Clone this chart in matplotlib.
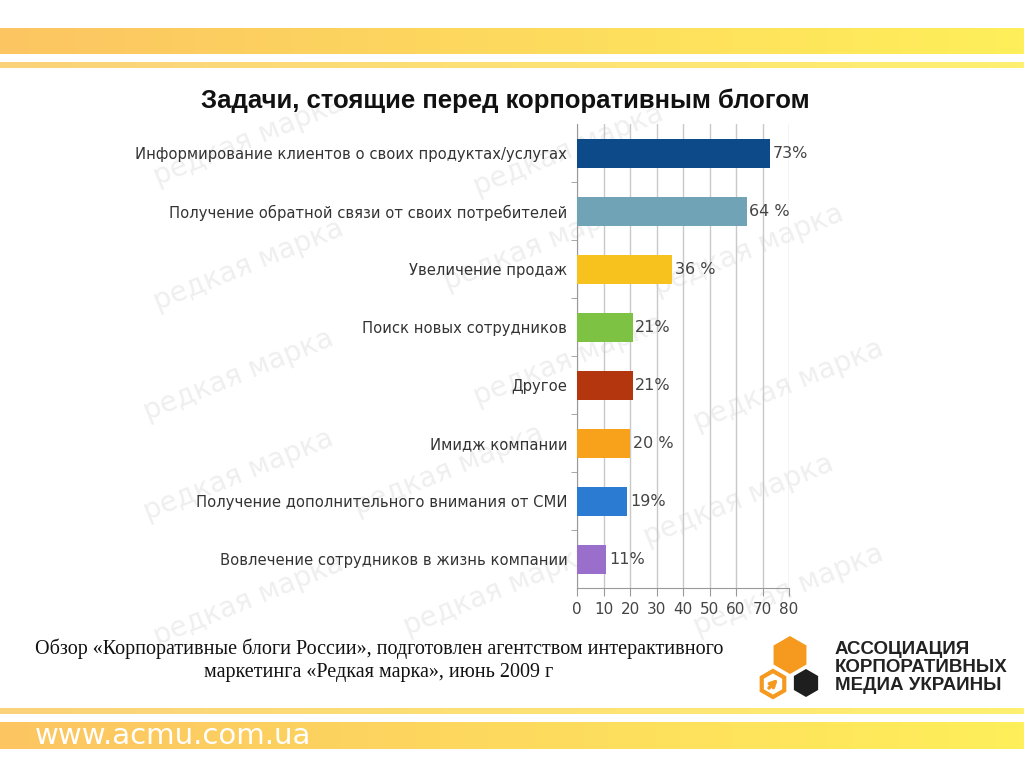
import numpy as np
import matplotlib.pyplot as plt
from matplotlib.patches import RegularPolygon

# data
categories = [
    "Информирование клиентов о своих продуктах/услугах",
    "Получение обратной связи от своих потребителей",
    "Увеличение продаж",
    "Поиск новых сотрудников",
    "Другое",
    "Имидж компании",
    "Получение дополнительного внимания от СМИ",
    "Вовлечение сотрудников в жизнь компании",
]
values = [73, 64, 36, 21, 21, 20, 19, 11]
value_labels = ["73%", "64 %", "36 %", "21%", "21%", "20 %", "19%", "11%"]
colors = ["#0D4A8A", "#71A3B6", "#F7C21E", "#7DC243", "#B3360F", "#F8A21B", "#2B7BD2", "#9A6FCB"]
xticks = [0, 10, 20, 30, 40, 50, 60, 70, 80]

title = "Задачи, стоящие перед корпоративным блогом"
source1 = "Обзор «Корпоративные блоги России», подготовлен агентством интерактивного"
source2 = "маркетинга «Редкая марка», июнь 2009 г"
logo_lines = ["АССОЦИАЦИЯ", "КОРПОРАТИВНЫХ", "МЕДИА УКРАИНЫ"]
site = "www.acmu.com.ua"

fig = plt.figure(figsize=(10.24, 7.68), dpi=100)
fig.patch.set_facecolor("white")

# background layer in pixel coords
bg = fig.add_axes([0, 0, 1, 1], zorder=0)
bg.set_xlim(0, 1024)
bg.set_ylim(768, 0)
bg.axis("off")

def band(y0, y1, c0, c1):
    t = np.linspace(0, 1, 256)
    c0 = np.array(plt.matplotlib.colors.to_rgb(c0))
    c1 = np.array(plt.matplotlib.colors.to_rgb(c1))
    img = (c0[None, :] * (1 - t[:, None]) + c1[None, :] * t[:, None])[None, :, :]
    bg.imshow(img, extent=[0, 1024, y1, y0], aspect="auto", zorder=1)

band(28, 54, "#FCC562", "#FFEF5A")
band(62, 68, "#FAD27A", "#FFF070")
band(708, 714, "#FAD27A", "#FFF070")
band(722, 749, "#FCC562", "#FFEF5A")
bg.set_xlim(0, 1024)
bg.set_ylim(768, 0)

bg.text(35, 736, site, color="white", fontsize=21, va="center", ha="left",
        family="DejaVu Sans", zorder=3)

# watermarks
wm = [(150, 140), (470, 150), (150, 265), (440, 245), (650, 250), (140, 375),
      (470, 360), (690, 385), (140, 475), (350, 470), (640, 500), (150, 600),
      (400, 590), (690, 590)]
for x, y in wm:
    bg.text(x, y, "редкая марка", color="#EFEFEF", fontsize=20, rotation=22,
            ha="left", va="center", zorder=2)

bg.text(505, 101, title, fontsize=18.5, fontweight="bold", ha="center",
        va="center", family="Liberation Sans", color="#111111", zorder=3)

bg.text(379, 649, source1, fontsize=14.5, ha="center", va="center",
        family="Liberation Serif", color="#111111", zorder=3)
bg.text(379, 673, source2, fontsize=14.5, ha="center", va="center",
        family="Liberation Serif", color="#111111", zorder=3)

# logo
bg.add_patch(RegularPolygon((790, 655), 6, radius=19, orientation=0,
                            facecolor="#F59A1E", edgecolor="none", zorder=3))
bg.add_patch(RegularPolygon((806, 683), 6, radius=14, orientation=0,
                            facecolor="#1E1E1E", edgecolor="none", zorder=3))
bg.add_patch(RegularPolygon((773, 684), 6, radius=13, orientation=0,
                            facecolor="white", edgecolor="#F59A1E", linewidth=3, zorder=3))
bg.annotate("", xy=(780, 677), xytext=(767, 690),
            arrowprops=dict(arrowstyle="->", color="#F59A1E", lw=2.5), zorder=4)
for i, line in enumerate(logo_lines):
    bg.text(835, 650 + i * 17.5, line, fontsize=13.5, fontweight="bold", ha="left",
            va="center", family="Liberation Sans", color="#222222", zorder=3)

# chart
ax = fig.add_axes([577 / 1024, 1 - 588 / 768, 212 / 1024, 464 / 768], zorder=1)
ax.patch.set_alpha(0)
y = np.arange(len(categories))
ax.barh(y, values, height=0.5, color=colors, zorder=3)
for yi, v, lab in zip(y, values, value_labels):
    ax.text(v + 1, yi, lab, va="center", ha="left", fontsize=11.5,
            color="#444444", zorder=4)

ax.set_xlim(0, 80)
ax.set_ylim(len(categories) - 0.5, -0.5)
ax.set_xticks(xticks)
ax.set_xticklabels([str(t) for t in xticks], fontsize=11, color="#444444")
ax.set_yticks(y)
ax.set_yticklabels(categories, fontsize=10.6, color="#333333")
ax.set_yticks(np.arange(len(categories) - 1) + 0.5, minor=True)
ax.tick_params(axis="y", which="major", length=0, pad=7)
ax.tick_params(axis="y", which="minor", length=4, color="#999999")
ax.tick_params(axis="x", length=6, color="#999999", pad=4)
ax.grid(axis="x", color="#C8C8C8", linewidth=1, zorder=0)
for s in ["top", "right"]:
    ax.spines[s].set_visible(False)
ax.spines["left"].set_color("#999999")
ax.spines["bottom"].set_color("#999999")

fig.savefig("out.png", dpi=100)
